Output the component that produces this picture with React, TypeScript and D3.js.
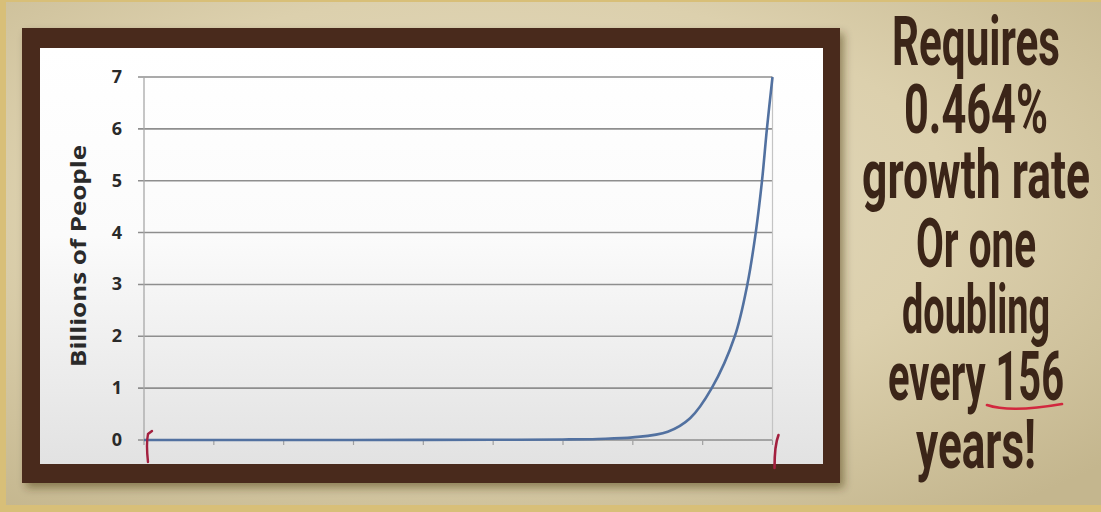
import React from "react";
import * as d3 from "d3";

// ---- data ----
const yTicks = [0, 1, 2, 3, 4, 5, 6, 7];
const xTicks = [0, 1, 2, 3, 4, 5, 6, 7, 8, 9];
// position along the (unlabelled) time axis, in tick units
const periods = [0, 1, 2, 3, 4, 5, 6, 6.5, 7, 7.5, 7.82, 8.13, 8.46, 8.64, 8.76, 8.85, 8.92, 9];
// population in billions
const billions = [0, 0, 0, 0.001, 0.002, 0.004, 0.01, 0.02, 0.05, 0.16, 0.42, 1, 2, 3, 4, 5, 6, 7];
const yLabel = "Billions of People";
const noteLines = ["Requires", "0.464%", "growth rate", "Or one", "doubling", "every 156", "years!"];

const W = 1101;
const H = 512;
const plot = { left: 144, right: 772.5, top: 77, bottom: 440 };

// layout of the note (baseline y, width)
const noteBaselines = [65, 133, 198, 267, 333, 400, 468];
const noteWidths = [168, 144, 228, 120, 148, 176, 120];

export default function App() {
  const x = d3.scaleLinear().domain([0, 9]).range([plot.left, plot.right]);
  const y = d3.scaleLinear().domain([0, 7]).range([plot.bottom, plot.top]);
  const pts: [number, number][] = periods.map((p, i) => [p, billions[i]]);
  const line = d3
    .line<[number, number]>()
    .x((d) => x(d[0]))
    .y((d) => y(d[1]))
    .curve(d3.curveCatmullRom.alpha(0.5));

  return (
    <svg
      width={W}
      height={H}
      style={{ position: "absolute", left: 0, top: 0 }}
      xmlns="http://www.w3.org/2000/svg"
    >
      <defs>
        <radialGradient id="paper" cx="45%" cy="40%" r="75%">
          <stop offset="0%" stopColor="#e4dbc1" />
          <stop offset="55%" stopColor="#dcd0ad" />
          <stop offset="100%" stopColor="#c4b68e" />
        </radialGradient>
        <linearGradient id="panel" x1="0" y1="0" x2="0" y2="1">
          <stop offset="0%" stopColor="#ffffff" />
          <stop offset="45%" stopColor="#fbfbfb" />
          <stop offset="100%" stopColor="#e2e2e2" />
        </linearGradient>
        <filter id="shadow" x="-5%" y="-5%" width="115%" height="120%">
          <feDropShadow dx="4" dy="5" stdDeviation="4" floodColor="#3a2a10" floodOpacity="0.45" />
        </filter>
      </defs>

      {/* background parchment */}
      <rect x={0} y={0} width={W} height={H} fill="url(#paper)" />
      <rect x={0} y={0} width={6} height={H} fill="#d8bf78" />
      <rect x={0} y={505} width={W} height={7} fill="#d8bf78" />
      <rect x={0} y={0} width={W} height={2} fill="#d8bf78" />

      {/* frame */}
      <rect x={22} y={28} width={818} height={455} fill="#4a2a1e" filter="url(#shadow)" />
      <rect x={40} y={48} width={783} height={416} fill="url(#panel)" />

      {/* gridlines */}
      {yTicks.map((t) => (
        <line
          key={"g" + t}
          x1={plot.left - 6}
          x2={plot.right}
          y1={y(t)}
          y2={y(t)}
          stroke="#8e8e8e"
          strokeWidth={1.6}
        />
      ))}
      {/* axes */}
      <line x1={plot.left} x2={plot.left} y1={plot.top} y2={plot.bottom} stroke="#a8a8a8" strokeWidth={1.3} />
      <line x1={plot.right} x2={plot.right} y1={plot.top} y2={plot.bottom} stroke="#c4c4c4" strokeWidth={1.2} />
      {xTicks.map((t) => (
        <line
          key={"xt" + t}
          x1={x(t)}
          x2={x(t)}
          y1={plot.bottom}
          y2={plot.bottom + 5}
          stroke="#a0a0a0"
          strokeWidth={1.2}
        />
      ))}

      {/* y tick labels */}
      {yTicks.map((t) => (
        <text
          key={"yl" + t}
          x={122}
          y={y(t) + 6}
          textAnchor="end"
          fontFamily="'Open Sans', sans-serif"
          fontWeight={700}
          fontSize={18}
          fill="#2a2a2a"
        >
          {t}
        </text>
      ))}
      <text
        transform="translate(86,256) rotate(-90)"
        textAnchor="middle"
        fontFamily="'Open Sans', sans-serif"
        fontWeight={700}
        fontSize={21}
        fill="#2a2a2a"
        textLength={222}
        lengthAdjust="spacingAndGlyphs"
      >
        {yLabel}
      </text>

      {/* the curve */}
      <path d={line(pts) || ""} fill="none" stroke="#5271a0" strokeWidth={2.6} />

      {/* red hand-drawn marks */}
      <path
        d={`M${x(0) + 4},${plot.bottom + 22} Q${x(0) + 2},${plot.bottom + 4} ${x(0) + 4},${plot.bottom - 6} L${x(0) + 8},${plot.bottom - 9}`}
        fill="none"
        stroke="#a3203f"
        strokeWidth={2.4}
        strokeLinecap="round"
      />
      <path
        d={`M${x(9) + 2},${plot.bottom + 28} Q${x(9) + 2},${plot.bottom + 5} ${x(9) + 6},${plot.bottom - 5}`}
        fill="none"
        stroke="#a3203f"
        strokeWidth={2.6}
        strokeLinecap="round"
      />

      {/* note text */}
      {noteLines.map((s, i) => (
        <text
          key={"n" + i}
          x={976}
          y={noteBaselines[i]}
          textAnchor="middle"
          fontFamily="Roboto, 'Liberation Sans', sans-serif"
          fontWeight={700}
          fontSize={69}
          fill="#3b2518"
          textLength={noteWidths[i]}
          lengthAdjust="spacingAndGlyphs"
        >
          {s}
        </text>
      ))}
      <path d="M987,405 Q1010,413 1062,404" fill="none" stroke="#d2283e" strokeWidth={2.6} strokeLinecap="round" />
    </svg>
  );
}
